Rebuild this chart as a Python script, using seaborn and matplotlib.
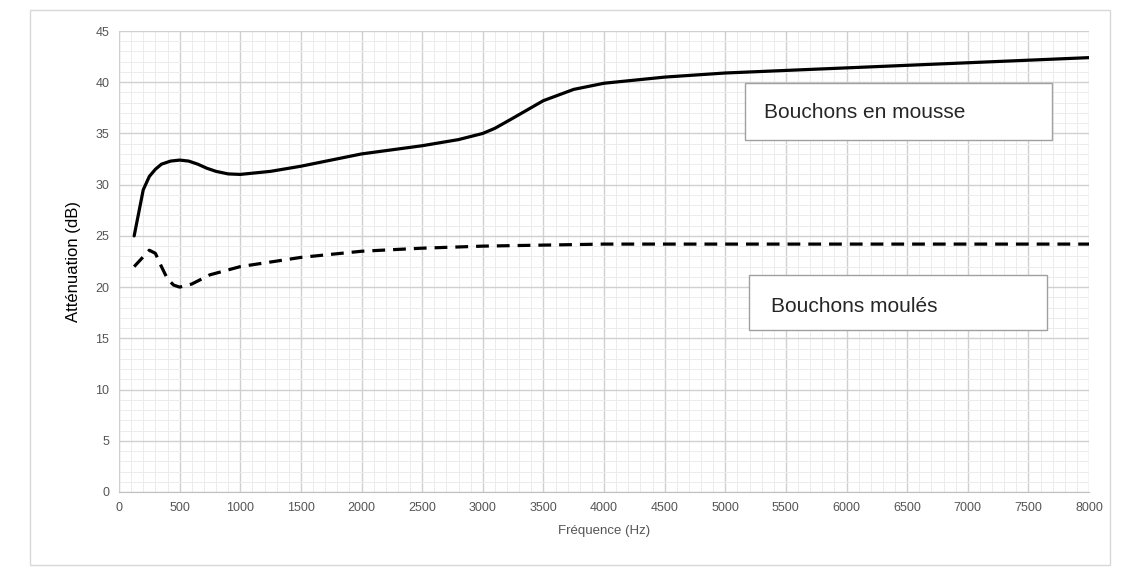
import matplotlib
matplotlib.use("Agg")
import matplotlib.pyplot as plt
import seaborn as sns
import pandas as pd
from matplotlib.ticker import MultipleLocator

freq_mousse = [125, 175, 200, 250, 300, 350, 425, 500, 575, 650, 725, 800, 900, 1000, 1250, 1500, 2000, 2500, 2800, 3000, 3100, 3250, 3500, 3750, 4000, 4500, 5000, 6000, 7000, 8000]
att_mousse = [25, 28.0, 29.5, 30.8, 31.5, 32.0, 32.3, 32.4, 32.3, 32.0, 31.6, 31.3, 31.05, 31.0, 31.3, 31.8, 33.0, 33.8, 34.4, 35.0, 35.5, 36.5, 38.2, 39.3, 39.9, 40.5, 40.9, 41.4, 41.9, 42.4]
freq_moule = [125, 250, 300, 350, 400, 450, 500, 600, 750, 1000, 1500, 2000, 2500, 3000, 4000, 5000, 6000, 8000]
att_moule = [22, 23.6, 23.3, 22.0, 20.8, 20.2, 20.0, 20.3, 21.2, 22.0, 22.9, 23.5, 23.8, 24.0, 24.2, 24.2, 24.2, 24.2]

sns.set_style("white")
plt.rcParams['font.family'] = ['Liberation Sans', 'DejaVu Sans']
fig = plt.figure(figsize=(11.27, 5.77), dpi=100)
ax = fig.add_axes([119/1127, 1-492/577, (1089-119)/1127, (492-31)/577])

d1 = pd.DataFrame({"f": freq_mousse, "a": att_mousse})
d2 = pd.DataFrame({"f": freq_moule, "a": att_moule})
sns.lineplot(data=d1, x="f", y="a", ax=ax, color="black", lw=2.3)
sns.lineplot(data=d2, x="f", y="a", ax=ax, color="black", lw=2.3, linestyle=(0, (4, 2.5)))

ax.set_xlim(0, 8000); ax.set_ylim(0, 45)
ax.xaxis.set_major_locator(MultipleLocator(500)); ax.xaxis.set_minor_locator(MultipleLocator(100))
ax.yaxis.set_major_locator(MultipleLocator(5)); ax.yaxis.set_minor_locator(MultipleLocator(1))
ax.grid(which="major", color="#d0d0d0", lw=1)
ax.grid(which="minor", color="#ececec", lw=0.7)
ax.set_axisbelow(True)
for s in ["top", "right"]:
    ax.spines[s].set_visible(False)
ax.spines["left"].set_color("#d0d0d0"); ax.spines["bottom"].set_color("#c0c0c0")
ax.tick_params(axis="both", which="both", length=0, labelsize=9, colors="#555555", pad=7)
ax.set_xlabel("Fréquence (Hz)", fontsize=9.5, color="#555555", labelpad=8)
ax.set_ylabel("Atténuation (dB)", fontsize=12, color="black", labelpad=10)

fig.patches.append(plt.Rectangle((30/1127, 1-565/577), 1080/1127, 555/577, transform=fig.transFigure,
                                 fill=False, ec="#d8d8d8", lw=1))
fig.patches.append(plt.Rectangle((745/1127, 1-140/577), 307/1127, 57/577, transform=fig.transFigure,
                                 fc="white", ec="#a0a0a0", lw=1, zorder=5))
fig.patches.append(plt.Rectangle((749/1127, 1-330/577), 298/1127, 55/577, transform=fig.transFigure,
                                 fc="white", ec="#a0a0a0", lw=1, zorder=5))
fig.text(764/1127, 1-112/577, "Bouchons en mousse", fontsize=15, va="center", zorder=6)
fig.text(771/1127, 1-306/577, "Bouchons moulés", fontsize=15, va="center", zorder=6)
fig.savefig("out.png", dpi=100)
